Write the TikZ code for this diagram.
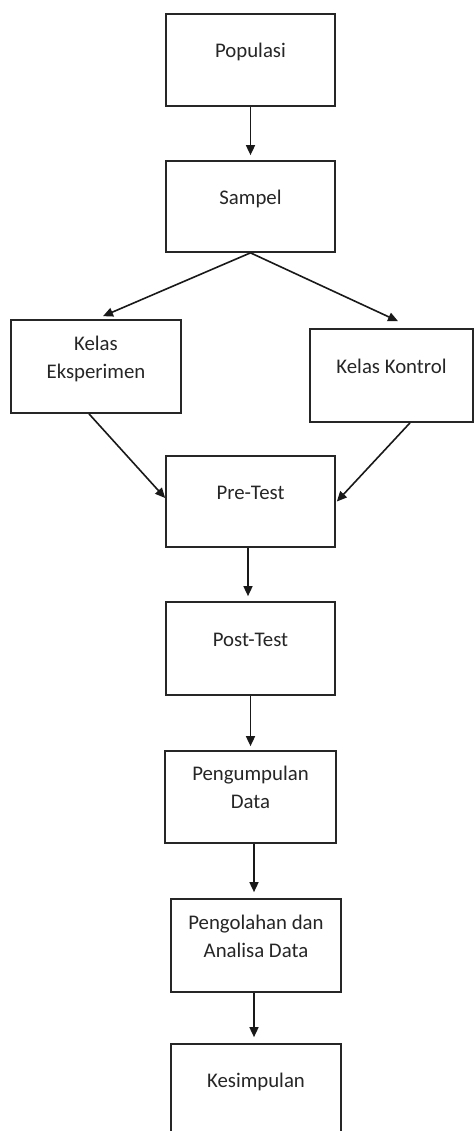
\documentclass[tikz,border=0pt]{standalone}
\usepackage{fontspec}
\setmainfont{Carlito}
\usetikzlibrary{arrows.meta}
\newcommand\bxtext[1]{\raisebox{8pt}[\height][\depth]{\begin{tabular}{@{}c@{}}#1\end{tabular}}}
\tikzset{
  flowbox/.style={draw=black!85, line width=1.7pt, rectangle, inner sep=0pt,
    text=black!85, font=\fontsize{20.8}{28}\selectfont},
  arr/.style={draw=black!90, line width=1.6pt, -{Triangle[length=10pt,width=9pt]}},
}
\begin{document}
\begin{tikzpicture}[x=1pt,y=-1pt]
\useasboundingbox (0,0) rectangle (474,1131);
\clip (0,0) rectangle (474,1131);
\fill[white] (0,0) rectangle (474,1131);
\node[flowbox, minimum width=169pt, minimum height=92pt] (pop) at (250.5,60) {\bxtext{Populasi}};
\node[flowbox, minimum width=169pt, minimum height=91pt] (sam) at (250.5,206.5) {\bxtext{Sampel}};
\node[flowbox, minimum width=170pt, minimum height=93pt] (eks) at (96,366.5) {\bxtext{Kelas\\Eksperimen}};
\node[flowbox, minimum width=163pt, minimum height=93pt] (kon) at (391.5,375.5) {\bxtext{Kelas Kontrol}};
\node[flowbox, minimum width=169pt, minimum height=91pt] (pre) at (250.5,501.5) {\bxtext{Pre-Test}};
\node[flowbox, minimum width=169pt, minimum height=93pt] (post) at (250.5,648.5) {\bxtext{Post-Test}};
\node[flowbox, minimum width=171pt, minimum height=92pt] (peng) at (250.5,797) {\bxtext{Pengumpulan\\Data}};
\node[flowbox, minimum width=170pt, minimum height=93pt] (olah) at (256,945.5) {\bxtext{Pengolahan dan\\Analisa Data}};
\node[flowbox, minimum width=170pt, minimum height=92pt] (kes) at (256,1090) {\bxtext{Kesimpulan}};
\draw[arr, shorten >=5pt] (pop.south) -- (sam.north);
\draw[arr] (sam.south) -- ([xshift=7pt,yshift=3pt]eks.north);
\draw[arr] (sam.south) -- ([xshift=6.5pt,yshift=7pt]kon.north);
\draw[arr] ([xshift=-7pt]eks.south) -- ([yshift=3.5pt]pre.west);
\draw[arr] ([xshift=18.5pt]kon.south) -- ([xshift=1pt]pre.east);
\draw[arr, shorten >=5pt] ([xshift=-2.5pt]pre.south) -- ([xshift=-2.5pt]post.north);
\draw[arr, shorten >=4pt] (post.south) -- (peng.north);
\draw[arr, shorten >=6pt] ([xshift=3.5pt]peng.south) -- ([xshift=-2pt]olah.north);
\draw[arr, shorten >=6pt] ([xshift=-2pt]olah.south) -- ([xshift=-2pt]kes.north);
\end{tikzpicture}
\end{document}
